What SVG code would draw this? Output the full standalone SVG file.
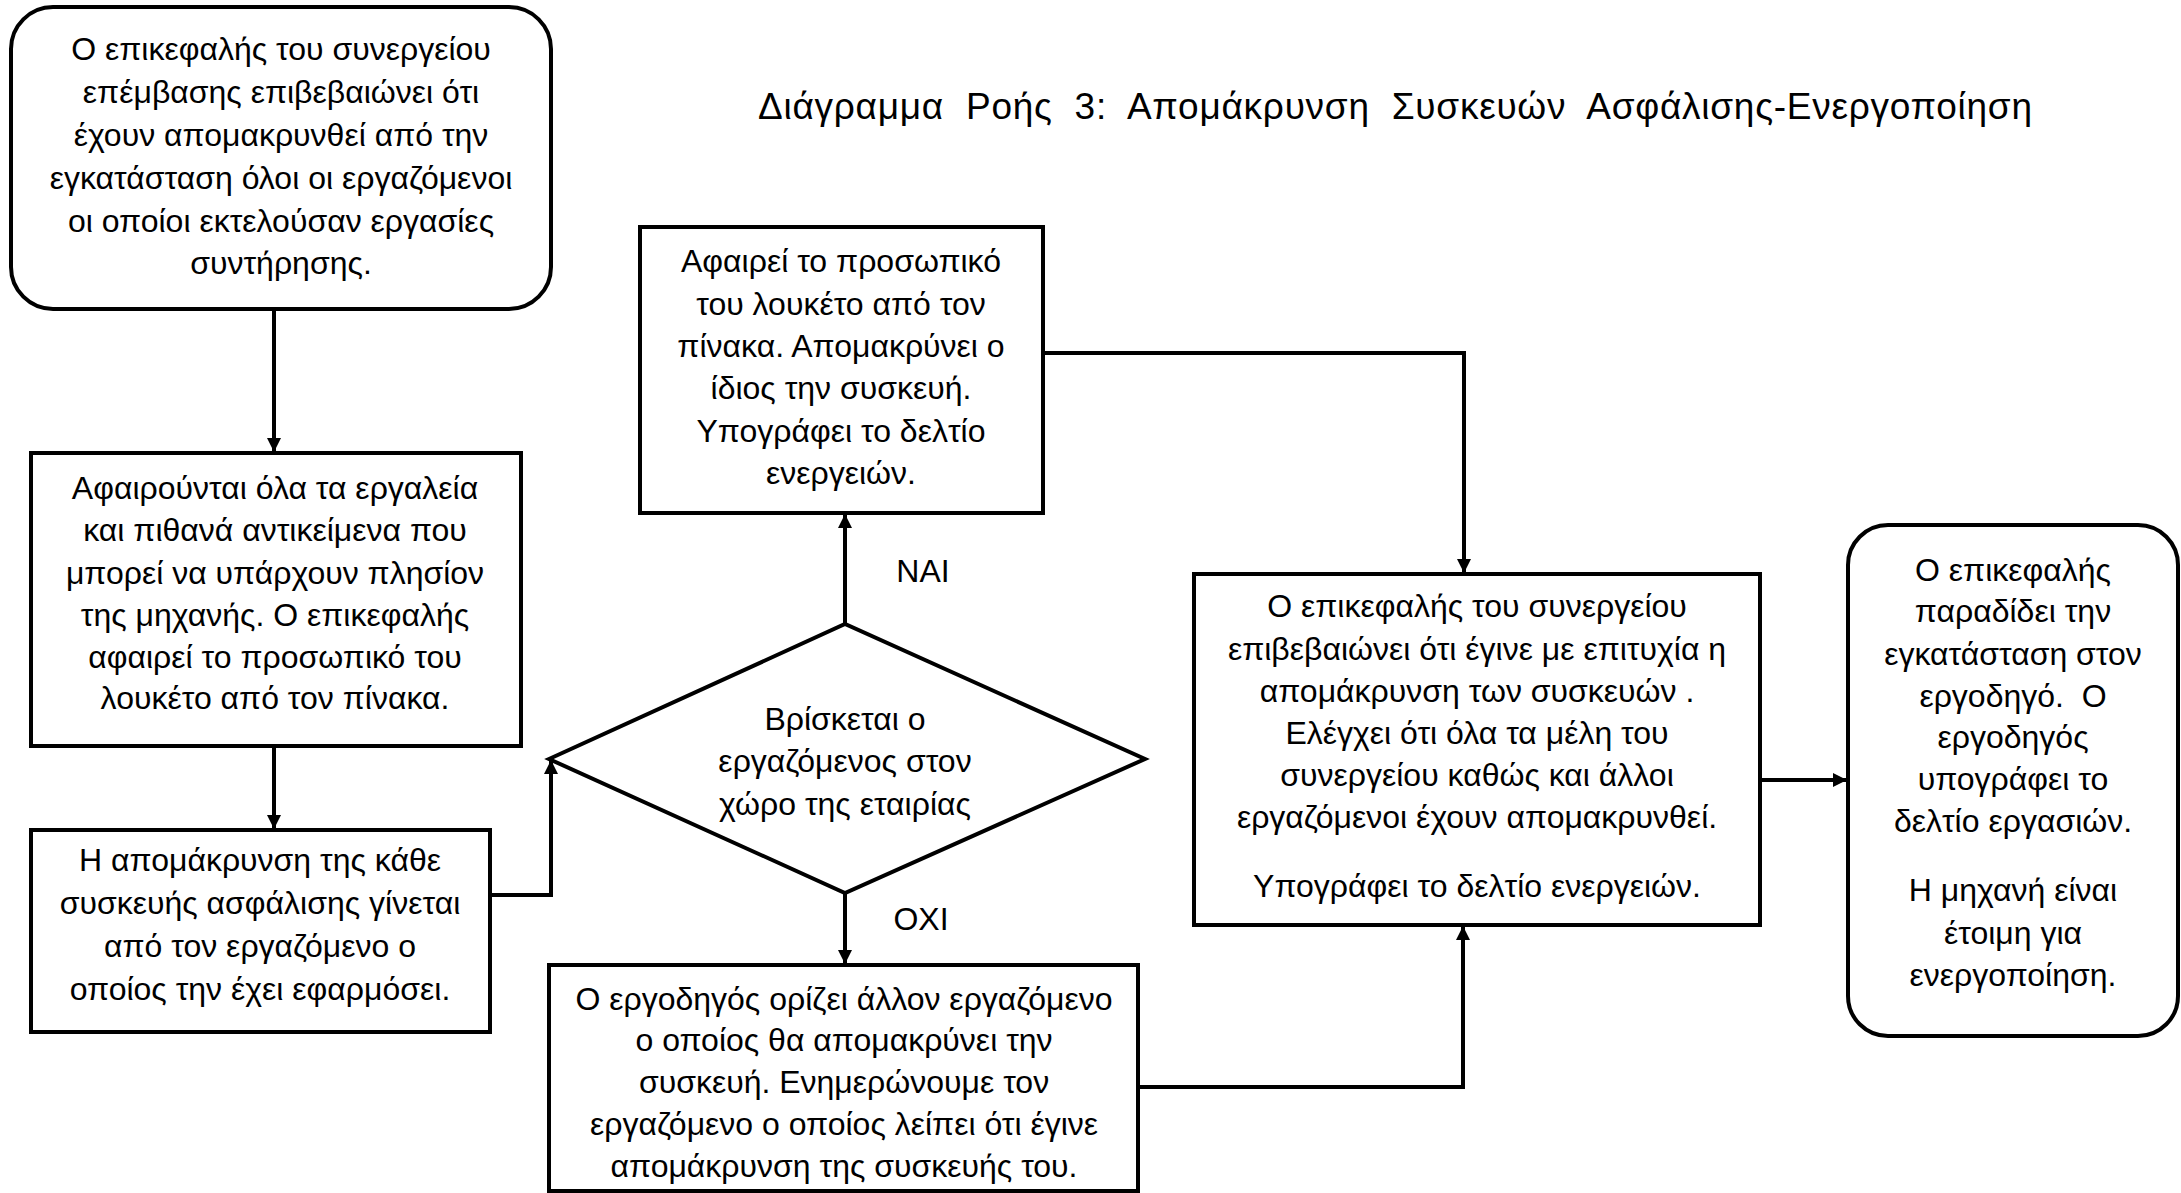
<svg xmlns="http://www.w3.org/2000/svg" width="2181" height="1193" viewBox="0 0 2181 1193">
<style>
.box{fill:#fff;stroke:#000;stroke-width:4}
.t{font-family:"Liberation Sans",Arial,"Noto Sans",sans-serif;font-size:32px;fill:#000;text-anchor:middle;white-space:pre}
.c{fill:none;stroke:#000;stroke-width:4;marker-end:url(#ah)}
</style>
<defs>
<marker id="ah" markerUnits="userSpaceOnUse" markerWidth="14" markerHeight="14" refX="13" refY="7" orient="auto">
<path d="M0,0 L14,7 L0,14 z" fill="#000"/>
</marker>
</defs>
<rect width="2181" height="1193" fill="#fff"/>
<text x="1395" y="119" class="t" style="font-size:37px" textLength="1274" lengthAdjust="spacing" xml:space="preserve">Διάγραμμα  Ροής  3:  Απομάκρυνση  Συσκευών  Ασφάλισης-Ενεργοποίηση</text>
<g id="connectors">
<path class="c" d="M274,309 V451"/>
<path class="c" d="M274,746 V828"/>
<path class="c" d="M490,895 H551 V761"/>
<path class="c" d="M845,624 V515"/>
<path class="c" d="M845,893 V963"/>
<path class="c" d="M1043,353 H1464 V572"/>
<path class="c" d="M1138,1087 H1463 V927"/>
<path class="c" d="M1760,780 H1846"/>
<text x="923" y="582" class="t">ΝΑΙ</text>
<text x="921" y="930" class="t">ΟΧΙ</text>
</g>
<g id="n1">
<rect class="box" x="11" y="7" width="540" height="302" rx="42"/>
<text class="t"><tspan x="281" y="60">Ο επικεφαλής του συνεργείου</tspan><tspan x="281" y="103">επέμβασης επιβεβαιώνει ότι</tspan><tspan x="281" y="146">έχουν απομακρυνθεί από την</tspan><tspan x="281" y="189">εγκατάσταση όλοι οι εργαζόμενοι</tspan><tspan x="281" y="232">οι οποίοι εκτελούσαν εργασίες</tspan><tspan x="281" y="274">συντήρησης.</tspan></text>
</g>
<g id="n2">
<rect class="box" x="31" y="453" width="490" height="293"/>
<text class="t"><tspan x="275" y="499">Αφαιρούνται όλα τα εργαλεία</tspan><tspan x="275" y="541">και πιθανά αντικείμενα που</tspan><tspan x="275" y="584">μπορεί να υπάρχουν πλησίον</tspan><tspan x="275" y="626">της μηχανής. Ο επικεφαλής</tspan><tspan x="275" y="668">αφαιρεί το προσωπικό του</tspan><tspan x="275" y="709">λουκέτο από τον πίνακα.</tspan></text>
</g>
<g id="n3">
<rect class="box" x="31" y="830" width="459" height="202"/>
<text class="t"><tspan x="260" y="871">Η απομάκρυνση της κάθε</tspan><tspan x="260" y="914">συσκευής ασφάλισης γίνεται</tspan><tspan x="260" y="957">από τον εργαζόμενο ο</tspan><tspan x="260" y="1000">οποίος την έχει εφαρμόσει.</tspan></text>
</g>
<g id="n4">
<rect class="box" x="640" y="227" width="403" height="286"/>
<text class="t"><tspan x="841" y="272">Αφαιρεί το προσωπικό</tspan><tspan x="841" y="315">του λουκέτο από τον</tspan><tspan x="841" y="357">πίνακα. Απομακρύνει ο</tspan><tspan x="841" y="399">ίδιος την συσκευή.</tspan><tspan x="841" y="442">Υπογράφει το δελτίο</tspan><tspan x="841" y="484">ενεργειών.</tspan></text>
</g>
<g id="n5">
<polygon class="box" points="549,759 845,624 1145,759 845,893"/>
<text class="t"><tspan x="845" y="730">Βρίσκεται ο</tspan><tspan x="845" y="772">εργαζόμενος στον</tspan><tspan x="845" y="815">χώρο της εταιρίας</tspan></text>
</g>
<g id="n6">
<rect class="box" x="549" y="965" width="589" height="226"/>
<text class="t"><tspan x="844" y="1010">Ο εργοδηγός ορίζει άλλον εργαζόμενο</tspan><tspan x="844" y="1051">ο οποίος θα απομακρύνει την</tspan><tspan x="844" y="1093">συσκευή. Ενημερώνουμε τον</tspan><tspan x="844" y="1135">εργαζόμενο ο οποίος λείπει ότι έγινε</tspan><tspan x="844" y="1177">απομάκρυνση της συσκευής του.</tspan></text>
</g>
<g id="n7">
<rect class="box" x="1194" y="574" width="566" height="351"/>
<text class="t"><tspan x="1477" y="617">Ο επικεφαλής του συνεργείου</tspan><tspan x="1477" y="660">επιβεβαιώνει ότι έγινε με επιτυχία η</tspan><tspan x="1477" y="702">απομάκρυνση των συσκευών .</tspan><tspan x="1477" y="744">Ελέγχει ότι όλα τα μέλη του</tspan><tspan x="1477" y="786">συνεργείου καθώς και άλλοι</tspan><tspan x="1477" y="828">εργαζόμενοι έχουν απομακρυνθεί.</tspan><tspan x="1477" y="897">Υπογράφει το δελτίο ενεργειών.</tspan></text>
</g>
<g id="n8">
<rect class="box" x="1848" y="525" width="330" height="511" rx="40"/>
<text class="t"><tspan x="2013" y="581">Ο επικεφαλής</tspan><tspan x="2013" y="622">παραδίδει την</tspan><tspan x="2013" y="665">εγκατάσταση στον</tspan><tspan x="2013" y="707">εργοδηγό.  Ο</tspan><tspan x="2013" y="748">εργοδηγός</tspan><tspan x="2013" y="790">υπογράφει το</tspan><tspan x="2013" y="832">δελτίο εργασιών.</tspan><tspan x="2013" y="901">Η μηχανή είναι</tspan><tspan x="2013" y="944">έτοιμη για</tspan><tspan x="2013" y="986">ενεργοποίηση.</tspan></text>
</g>
</svg>
